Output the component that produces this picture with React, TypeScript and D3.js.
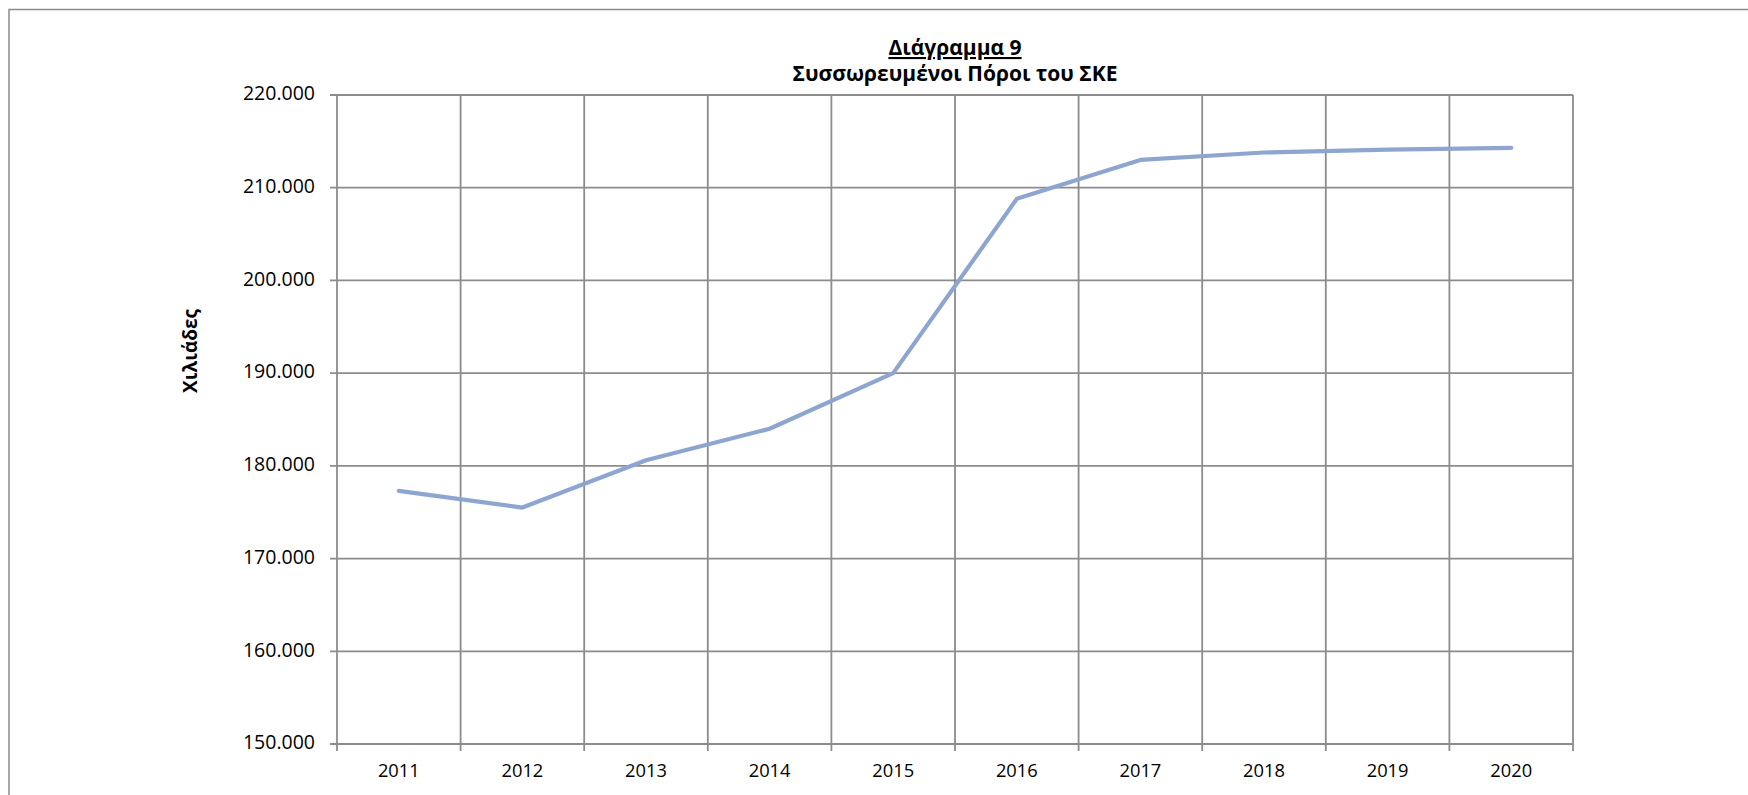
import React from "react";
import * as d3 from "d3";

const years = ["2011", "2012", "2013", "2014", "2015", "2016", "2017", "2018", "2019", "2020"];
const resources = [177.3, 175.5, 180.6, 184.0, 190.0, 208.8, 213.0, 213.8, 214.1, 214.3];
const yTicks = [150, 160, 170, 180, 190, 200, 210, 220];
const titleLine1 = "Διάγραμμα 9";
const titleLine2 = "Συσσωρευμένοι Πόροι του ΣΚΕ";
const yAxisTitle = "Χιλιάδες";

const W = 1748;
const H = 795;
const plot = { left: 337, right: 1573, top: 95, bottom: 744 };
const FONT = "'Open Sans', 'DejaVu Sans', sans-serif";
const GRID = "#8c8c8c";

export default function App() {
  const x = d3.scaleBand<string>().domain(years).range([plot.left, plot.right]).padding(0);
  const y = d3.scaleLinear().domain([150, 220]).range([plot.bottom, plot.top]);
  const line = d3
    .line<number>()
    .x((_, i) => (x(years[i]) as number) + x.bandwidth() / 2)
    .y((d) => y(d));
  const fmt = (v: number) => d3.format(".3f")(v);
  const boundaries = years.map((yr) => x(yr) as number).concat([plot.right]);

  return (
    <svg
      width={W}
      height={H}
      style={{ position: "absolute", left: 0, top: 0, background: "#fff" }}
      fontFamily={FONT}
    >
      <rect x={9} y={9.5} width={3000} height={3000} fill="none" stroke="#8a8a8a" strokeWidth={1.5} />
      {yTicks.map((t) => (
        <g key={t}>
          <line x1={plot.left - 7} x2={plot.right} y1={y(t)} y2={y(t)} stroke={GRID} strokeWidth={1.8} />
          <text x={315} y={y(t)} textAnchor="end" dominantBaseline="middle" fontSize={19.5} fill="#000">
            {fmt(t)}
          </text>
        </g>
      ))}
      {boundaries.map((bx, i) => (
        <line key={i} x1={bx} x2={bx} y1={plot.top} y2={plot.bottom + 7} stroke={GRID} strokeWidth={1.8} />
      ))}
      {years.map((yr) => (
        <text
          key={yr}
          x={(x(yr) as number) + x.bandwidth() / 2}
          y={777}
          textAnchor="middle"
          fontSize={18.3}
          fill="#000"
        >
          {yr}
        </text>
      ))}
      <path
        d={line(resources) || ""}
        fill="none"
        stroke="#8EA6CF"
        strokeWidth={4.2}
        strokeLinejoin="round"
        strokeLinecap="round"
      />
      <text x={955} y={55} textAnchor="middle" fontSize={21} fontWeight="bold" textDecoration="underline" fill="#000">
        {titleLine1}
      </text>
      <text x={955} y={81} textAnchor="middle" fontSize={21} fontWeight="bold" fill="#000">
        {titleLine2}
      </text>
      <text
        transform={`translate(192,351) rotate(-90)`}
        textAnchor="middle"
        dominantBaseline="middle"
        fontSize={19}
        fontWeight="bold"
        fill="#000"
      >
        {yAxisTitle}
      </text>
    </svg>
  );
}
